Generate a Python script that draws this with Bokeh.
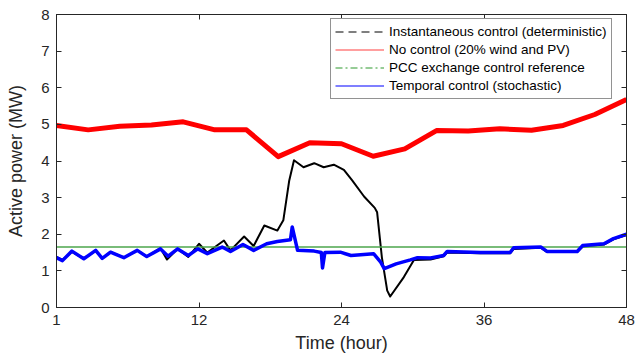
from bokeh.plotting import figure
from bokeh.models import (Range1d, FixedTicker, LinearAxis, Legend, LegendItem)
from bokeh.embed import file_html
from bokeh.resources import INLINE

# ---------------- data ----------------
x_ticks = [0, 12, 24, 36, 48]
x_tick_labels = ["1", "12", "24", "36", "48"]
y_ticks = [0, 1, 2, 3, 4, 5, 6, 7, 8]

# No control (20% wind and PV)
red_hours = [0, 2.67, 5.33, 8, 10.67, 13.33, 16, 18.67, 21.33, 24, 26.67,
             29.33, 32, 34.67, 37.33, 40, 42.67, 45.33, 48]
red_mw = [4.97, 4.85, 4.95, 4.98, 5.07, 4.85, 4.85, 4.12, 4.5, 4.47, 4.13,
          4.33, 4.83, 4.82, 4.88, 4.84, 4.97, 5.27, 5.68]

# PCC exchange control reference
pcc_hours = [0, 48]
pcc_mw = [1.65, 1.65]

# Instantaneous control (deterministic)
inst_hours = [0, 0.5, 1.3, 2.3, 3.3, 3.85, 4.55, 5.67, 6.8, 7.6, 8.76, 9.3,
              10.2, 11.1, 12.0, 12.7, 14.1, 14.65, 15.8, 16.6, 17.5, 18.6,
              19.1, 19.6, 20.0, 20.8, 21.7, 22.5, 23.35, 24.2, 24.9, 25.9,
              26.8, 27.0, 27.4, 27.85, 28.1, 29.25, 30.1, 31.5, 32.6, 32.9,
              35.7, 38.2, 38.5, 40.8, 41.3, 43.85, 44.3, 46.1, 46.9, 48]
inst_mw = [1.38, 1.3, 1.52, 1.33, 1.55, 1.34, 1.52, 1.36, 1.56, 1.39, 1.62, 1.31,
           1.6, 1.38, 1.74, 1.5, 1.83, 1.56, 1.94, 1.68, 2.24, 2.1,
           2.38, 3.47, 4.02, 3.83, 3.94, 3.83, 3.9, 3.76, 3.47, 3.03,
           2.72, 2.6, 1.37, 0.46, 0.3, 0.83, 1.3, 1.31, 1.4, 1.5,
           1.48, 1.48, 1.6, 1.63, 1.52, 1.52, 1.66, 1.72, 1.86, 1.98]

# Temporal control (stochastic)
temp_hours = [0, 0.5, 1.3, 2.3, 3.3, 3.85, 4.55, 5.67, 6.8, 7.6, 8.76, 9.4,
              10.2, 11.1, 11.9, 12.7, 13.95, 14.65, 15.7, 16.6, 17.7, 18.6,
              19.7, 19.85, 20.3, 21.7, 22.3, 22.4, 22.6, 23.9, 24.8, 26.7,
              27.3, 27.6, 28.6, 29.8, 30.4, 31.5, 32.6, 32.9, 35.7, 38.2,
              38.5, 40.8, 41.3, 43.85, 44.3, 46.1, 46.9, 48]
temp_mw = [1.36, 1.28, 1.54, 1.33, 1.56, 1.34, 1.51, 1.36, 1.56, 1.39, 1.6, 1.4,
           1.6, 1.42, 1.6, 1.47, 1.65, 1.53, 1.72, 1.56, 1.74, 1.8,
           1.85, 2.2, 1.56, 1.54, 1.5, 1.08, 1.5, 1.51, 1.42, 1.47,
           1.24, 1.06, 1.19, 1.3, 1.36, 1.35, 1.42, 1.53, 1.5, 1.5,
           1.63, 1.65, 1.53, 1.53, 1.69, 1.74, 1.88, 2.0]

legend_labels = ["Instantaneous control (deterministic)",
                 "No control (20% wind and PV)",
                 "PCC exchange control reference",
                 "Temporal control (stochastic)"]

# ---------------- figure ----------------
FONT = "Liberation Sans"
AX = "#262626"
NAN = float("nan")

p = figure(width=635, height=362, output_backend="svg", toolbar_location=None,
           x_range=Range1d(0, 48), y_range=Range1d(0, 8),
           min_border_left=56, min_border_right=9, min_border_top=14,
           min_border_bottom=55, x_axis_label="Time (hour)",
           y_axis_label="Active power (MW)")
p.background_fill_color = "white"
p.border_fill_color = "white"
p.outline_line_color = AX
p.outline_line_width = 1
p.xgrid.visible = False
p.ygrid.visible = False

for ax in p.xaxis:
    ax.ticker = FixedTicker(ticks=x_ticks)
    ax.major_label_overrides = {t: l for t, l in zip(x_ticks, x_tick_labels)}
for ax in p.yaxis:
    ax.ticker = FixedTicker(ticks=y_ticks)

for ax in list(p.xaxis) + list(p.yaxis):
    ax.axis_line_color = AX
    ax.major_tick_line_color = AX
    ax.major_tick_in = 5
    ax.major_tick_out = 0
    ax.minor_tick_line_color = None
    ax.major_label_text_font = FONT
    ax.major_label_text_font_size = "15px"
    ax.major_label_text_color = AX
    ax.axis_label_text_font = FONT
    ax.axis_label_text_font_size = "18px"
    ax.axis_label_text_font_style = "normal"
    ax.axis_label_text_color = AX

p.yaxis.major_label_standoff = 7
p.yaxis.axis_label_standoff = 12
p.xaxis.major_label_standoff = 7
p.xaxis.axis_label_standoff = 5

# mirrored ticks on top and right (no labels drawn)
top = LinearAxis(ticker=FixedTicker(ticks=x_ticks), major_tick_in=5, major_tick_out=0,
                 minor_tick_line_color=None, major_label_text_font_size="1px",
                 major_label_text_color=None, major_label_standoff=0,
                 axis_line_color=AX, major_tick_line_color=AX)
right = LinearAxis(ticker=FixedTicker(ticks=y_ticks), major_tick_in=5, major_tick_out=0,
                   minor_tick_line_color=None, major_label_text_font_size="1px",
                   major_label_text_color=None, major_label_standoff=0,
                   axis_line_color=AX, major_tick_line_color=AX)
p.add_layout(top, "above")
p.add_layout(right, "right")

# ---------------- data lines ----------------
p.line(inst_hours, inst_mw, line_color="black", line_width=2, line_join="round")
p.line(red_hours, red_mw, line_color="#ff0000", line_width=5, line_join="round")
p.line(pcc_hours, pcc_mw, line_color="#4ca64c", line_width=1.5)
p.line(temp_hours, temp_mw, line_color="#0000ff", line_width=3.5, line_join="round")

# thin legend glyphs (renderers with no visible data)
lg_black = p.line([NAN], [NAN], line_color="black", line_width=1.2, line_dash="8 5")
lg_red = p.line([NAN], [NAN], line_color="#ff4040", line_width=1.2)
lg_green = p.line([NAN], [NAN], line_color="#2e9a2e", line_width=1.2, line_dash="7 3 2 3")
lg_blue = p.line([NAN], [NAN], line_color="#0000ff", line_width=1.2)

legend = Legend(items=[LegendItem(label=legend_labels[0], renderers=[lg_black]),
                       LegendItem(label=legend_labels[1], renderers=[lg_red]),
                       LegendItem(label=legend_labels[2], renderers=[lg_green]),
                       LegendItem(label=legend_labels[3], renderers=[lg_blue])],
                location=(274, 208))
legend.label_text_font = FONT
legend.label_text_font_size = "13.5px"
legend.label_text_color = "black"
legend.padding = 4
legend.spacing = 1
legend.label_height = 17
legend.glyph_height = 17
legend.glyph_width = 49
legend.label_standoff = 5
legend.margin = 0
legend.border_line_color = AX
legend.border_line_width = 1
legend.background_fill_color = "white"
legend.background_fill_alpha = 1
p.add_layout(legend, "center")

open("out.html", "w").write(file_html(p, INLINE))
